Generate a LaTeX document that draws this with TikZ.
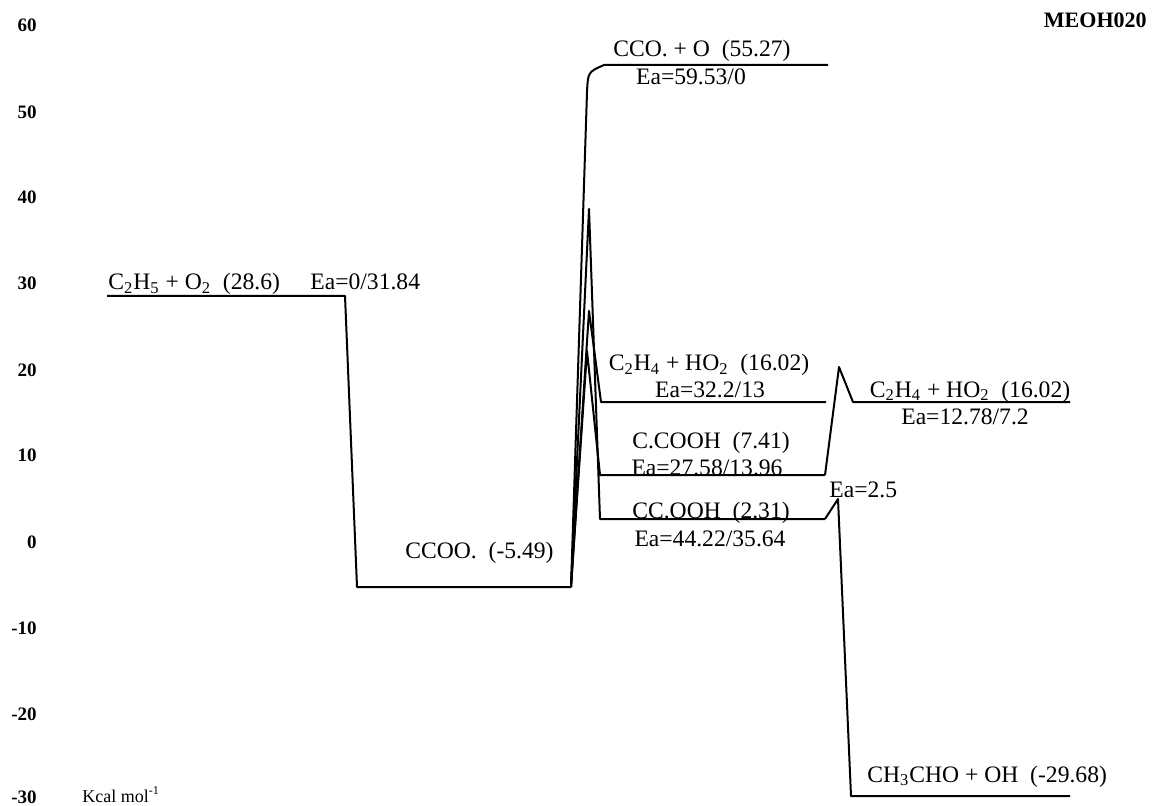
\documentclass[tikz,border=0pt]{standalone}
\usepackage{fontspec}
\setmainfont{Liberation Serif}
\begin{document}
\begin{tikzpicture}[x=0.5pt,y=-0.5pt,
  level/.style={line width=1pt,line join=round},
  lbl/.style={font=\fontsize{11.8}{13}\selectfont,inner sep=0pt,anchor=base},
  tick/.style={font=\bfseries\fontsize{9.5}{11}\selectfont,inner sep=0pt,anchor=east}]
\useasboundingbox (0,0) rectangle (1154,806);
% energy axis
\foreach \v/\y in {60/25,50/112,40/197,30/283,20/370,10/455,0/542,-10/628,-20/714,-30/797}
  \node[tick] (t\v) at (37,\y) {\v};
\node[lbl,anchor=base west,font=\fontsize{9}{11}\selectfont] (unit) at (82,802) {Kcal mol\textsuperscript{-1}};
\node[lbl,anchor=base east,font=\bfseries\fontsize{11}{13}\selectfont] (tag) at (1147,28) {MEOH020};
% levels
\coordinate (r1) at (107,296);  \coordinate (r2) at (345,296);
\coordinate (w1) at (357,587);  \coordinate (w2) at (571,587);
\coordinate (o1) at (587,92);   \coordinate (o2) at (604,65);  \coordinate (o3) at (828,65);
\coordinate (ts1) at (589,209); \coordinate (ts2) at (589,311); \coordinate (ts3) at (587,351);
\coordinate (e1) at (601,402);  \coordinate (e2) at (826,402);
\coordinate (h1) at (600,475);  \coordinate (h2) at (825,475);
\coordinate (k1) at (600,519);  \coordinate (k2) at (825,519);
\coordinate (ts4) at (839,367); \coordinate (f1) at (853,402);  \coordinate (f2) at (1070,402);
\coordinate (ts5) at (838,499); \coordinate (m1) at (851,796);  \coordinate (m2) at (1070,796);
\draw[level] (r1) -- (r2) -- (w1) -- (w2);
\draw[level] (w2) -- (o1) .. controls (588,72) .. (o2) -- (o3);
\draw[level] (w2) -- (ts1) -- (k1) -- (k2);
\draw[level] (w2) -- (ts2) -- (e1) -- (e2);
\draw[level] (w2) -- (ts3) -- (h1) -- (h2);
\draw[level] (h2) -- (ts4) -- (f1) -- (f2);
\draw[level] (k2) -- (ts5) -- (m1) -- (m2);
% labels
\node[lbl,anchor=base west] (c2h5) at (108,290) {C\textsubscript{2}H\textsubscript{5} + O\textsubscript{2}~~(28.6)};
\node[lbl,anchor=base west] (ea1) at (310,290) {Ea=0/31.84};
\node[lbl,anchor=base west] (ccoo) at (405,558) {CCOO.~~(-5.49)};
\node[lbl] (cco) at (702,57) {CCO. + O~~(55.27)};
\node[lbl] (ea2) at (691,85) {Ea=59.53/0};
\node[lbl] (c2h4a) at (709,371) {C\textsubscript{2}H\textsubscript{4} + HO\textsubscript{2}~~(16.02)};
\node[lbl] (ea3) at (710,398) {Ea=32.2/13};
\node[lbl] (ccooh) at (711,448) {C.COOH~~(7.41)};
\node[lbl] (ea4) at (707,475) {Ea=27.58/13.96};
\node[lbl] (ccooh2) at (711,518) {CC.OOH~~(2.31)};
\node[lbl] (ea5) at (710,546) {Ea=44.22/35.64};
\node[lbl,anchor=base west] (ea6) at (829,497) {Ea=2.5};
\node[lbl] (c2h4b) at (970,397) {C\textsubscript{2}H\textsubscript{4} + HO\textsubscript{2}~~(16.02)};
\node[lbl] (ea7) at (965,424) {Ea=12.78/7.2};
\node[lbl,anchor=base west] (ch3cho) at (867,782) {CH\textsubscript{3}CHO + OH~~(-29.68)};
\end{tikzpicture}
\end{document}
